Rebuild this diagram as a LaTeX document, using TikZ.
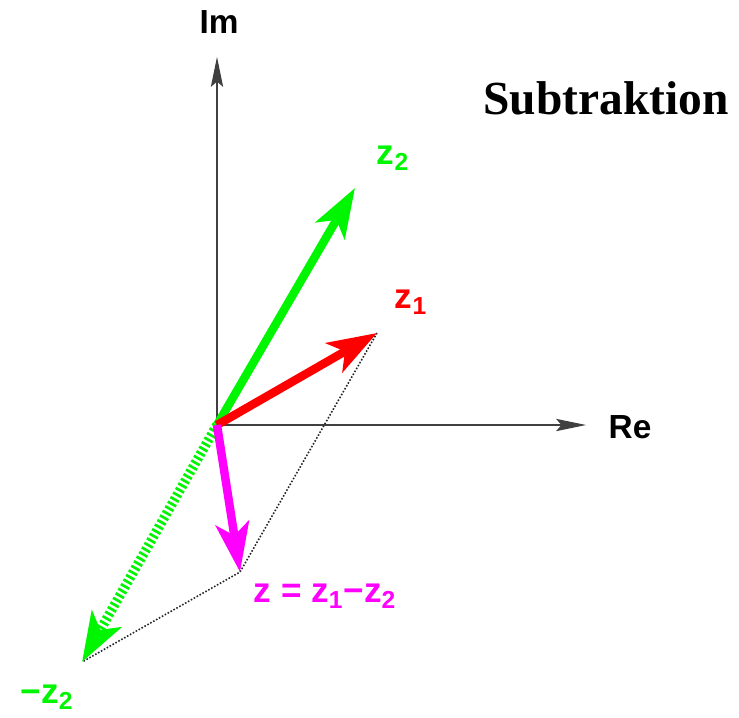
\documentclass[tikz,border=0pt]{standalone}
\usepackage{fontspec}
\setmainfont{Liberation Serif}
\newfontfamily\labelfont{Liberation Sans}
\usetikzlibrary{arrows.meta}
\tikzset{
  axis/.style={
    -{Stealth[length=17pt, width=7pt, inset=3pt]},
    line width=0.6pt,
    color=black!75
  },
  vec/.style={
    -{Stealth[length=28pt, width=19pt, inset=7pt]},
    line width=4.8pt
  },
  helper/.style={
    densely dotted,
    line width=0.9pt,
    color=black!85
  },
  axis label/.style={
    font=\labelfont\bfseries\fontsize{19}{22}\selectfont
  },
  vec label/.style={
    font=\labelfont\bfseries\fontsize{20}{23}\selectfont
  }
}
\definecolor{zgreen}{RGB}{0,245,0}
\definecolor{zred}{RGB}{255,0,0}
\definecolor{zmagenta}{RGB}{255,0,255}

\begin{document}
\begin{tikzpicture}[x=0.02cm, y=-0.02cm]
  \useasboundingbox (0,0) rectangle (739,717);

  %% ---- Punkte ----
  \coordinate (O)   at (217,425);
  \coordinate (Im)  at (217,57);
  \coordinate (Re)  at (586,425);
  \coordinate (Z1)  at (377,333);
  \coordinate (Z2)  at (355,188);
  \coordinate (mZ2) at (82,662);
  \coordinate (Z)   at (240,572);

  %% ---- Achsen ----
  \draw[axis] (O) -- (Im);
  \draw[axis] (O) -- (Re);
  \node[axis label] (imlabel) at (219,22)  {Im};
  \node[axis label] (relabel) at (630,427) {Re};

  %% ---- Hilfslinien ----
  \draw[helper] (Z1) -- (Z) -- (mZ2);

  %% ---- Vektoren ----
  \draw[vec, zgreen, line width=5.5pt,
        dash pattern=on 1.5pt off 1.5pt,
        -{Stealth[length=28pt, width=19pt, inset=7pt, sep=0pt]}] (O) -- (mZ2);
  \draw[vec, zgreen]   (O) -- (Z2);
  \draw[vec, zred]     (O) -- (Z1);
  \draw[vec, zmagenta] (O) -- (Z);

  %% ---- Beschriftungen ----
  \node[vec label, zgreen]   (z2label)  at (393,158) {z\textsubscript{2}};
  \node[vec label, zred]     (z1label)  at (411,302) {z\textsubscript{1}};
  \node[vec label, zgreen]   (mz2label) at (47,697)  {\textminus z\textsubscript{2}};
  \node[vec label, zmagenta] (zlabel)   at (325,596)
    {z = z\textsubscript{1}\textminus z\textsubscript{2}};
  \node[font=\bfseries\fontsize{27}{31}\selectfont] (title) at (606,98) {Subtraktion};
\end{tikzpicture}
\end{document}
